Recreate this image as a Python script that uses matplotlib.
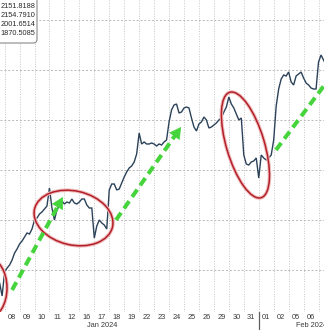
import numpy as np
import matplotlib
matplotlib.use("Agg")
import matplotlib.pyplot as plt
from matplotlib.patches import Ellipse, FancyBboxPatch
import matplotlib.transforms as mtransforms

# ---------------- data ----------------
# one sub-list of intraday prices per trading session (session 0 = Jan 8; -1 = Jan 5)
first_session = -1
intraday_prices = [
    [1900, 1894, 1896, 1890, 1887, 1874],  # Jan 05
    [1898, 1902, 1905, 1910, 1917, 1921],  # Jan 08
    [1926, 1929, 1933, 1937, 1936, 1941],  # Jan 09
    [1950, 1952, 1956, 1958, 1961, 1964],  # Jan 10
    [1982, 1962, 1950, 1960, 1965, 1969],  # Jan 11
    [1966, 1968, 1967, 1971, 1967, 1966],  # Jan 12
    [1968, 1971, 1971, 1965, 1962, 1962],  # Jan 16
    [1932, 1944, 1950, 1947, 1945, 1941],  # Jan 17
    [1980, 1986, 1986, 1980, 1981, 1987],  # Jan 18
    [1993, 1998, 2002, 2004, 2008, 2016],  # Jan 19
    [2037, 2026, 2028, 2026, 2026, 2027],  # Jan 22
    [2026, 2024, 2026, 2025, 2028, 2030],  # Jan 23
    [2048, 2060, 2065, 2066, 2057, 2058],  # Jan 24
    [2062, 2063, 2062, 2052, 2043, 2039],  # Jan 25
    [2046, 2048, 2053, 2050, 2042, 2043],  # Jan 26
    [2045, 2047, 2050, 2052, 2058, 2063],  # Jan 29
    [2073, 2066, 2062, 2056, 2050, 2052],  # Jan 30
    [2015, 2006, 2005, 2008, 2009, 2012],  # Jan 31
    [1992, 2015, 2012, 2010, 2012, 2015],  # Feb 01
    [2030, 2064, 2081, 2091, 2095, 2094],  # Feb 02
    [2098, 2088, 2085, 2094, 2096, 2098],  # Feb 05
    [2092, 2087, 2085, 2082, 2081, 2081],  # Feb 06
    [2108, 2115, 2110, 2105, 2104, 2106],  # Feb 07
]
day_labels = ["08", "09", "10", "11", "12", "16", "17", "18", "19", "22", "23",
              "24", "25", "26", "29", "30", "31", "01", "02", "05", "06", "07"]
month_labels = ["Jan 2024", "Feb 2024"]
month_label_pos = [6.55, 20.5]
month_break = 17
tooltip_values = ["2151.8188", "2154.7910", "2001.6514", "1870.5085"]
grid_levels = [1900, 1950, 2000, 2050, 2100, 2150]

# annotation geometry (session, price)
trend_arrows = [((0.5, 1880), (3.9, 1973), True),
                ((7.45, 1950), (11.8, 2043), True),
                ((18.15, 2020), (21.8, 2093), False)]
rings = [((-1.11, 1882), 38, 60, 0),
         ((4.61, 1952), 80, 54, -13),
         ((16.11, 2025), 110, 38, 106.6)]

# ---------------- build series ----------------
xs, ys = [], []
for i, day in enumerate(intraday_prices):
    n = len(day)
    for k, p in enumerate(day):
        xs.append(first_session + i + k / n)
        ys.append(p)
xs = np.array(xs); ys = np.array(ys)

# ---------------- figure ----------------
fig = plt.figure(figsize=(3.24, 3.30), dpi=100)
ax = fig.add_axes([0, 18 / 330, 1, 312 / 330])
for s in ax.spines.values():
    s.set_visible(False)

# grid
ax.set_xticks(np.arange(len(day_labels)) + 0.5)
ax.set_xticklabels(day_labels, fontsize=5.3, color="#3a3a3a", family="Liberation Sans")
ax.set_xticks(np.arange(0, 23), minor=True)
ax.set_yticks(grid_levels)
ax.tick_params(axis="x", which="both", length=0, pad=1.2)
ax.tick_params(axis="y", length=0, labelleft=False)
ax.grid(which="minor", axis="x", color="#c4c4c4", lw=0.7, ls=(0, (1, 1.6)))
ax.grid(which="major", axis="y", color="#b8b8b8", lw=0.7, ls=(0, (2, 2)))
ax.set_axisbelow(True)

# price line
ax.plot(xs, ys, color="#2c4259", lw=1.0, zorder=3, solid_joinstyle="miter")

ax.set_xlim(-0.308, 21.365)
ax.set_ylim(1858, 2170)

# month labels and separator
bt = mtransforms.blended_transform_factory(ax.transData, ax.transAxes)
for lab, pos in zip(month_labels, month_label_pos):
    ax.text(pos, -0.042, lab, transform=bt, ha="center", va="center",
            fontsize=5.3, color="#3a3a3a", family="Liberation Sans", clip_on=False)
ax.plot([month_break, month_break], [0, -0.07], transform=bt, color="#606060",
        lw=0.9, clip_on=False)

# red rings
for (cx, cy), w, h, ang in rings:
    trans = fig.dpi_scale_trans + mtransforms.ScaledTranslation(cx, cy, ax.transData)
    for lw, col in [(2.6, "#efbcbc"), (1.1, "#b3202a")]:
        ax.add_patch(Ellipse((0, 0), w / 100, h / 100, angle=ang, transform=trans,
                             fill=False, lw=lw, ec=col, zorder=4))

# green dashed trend arrows
green = "#46d43c"
for (x0, y0), (x1, y1), head in trend_arrows:
    if head:
        xe = x0 + (x1 - x0) * 0.93
        ye = y0 + (y1 - y0) * 0.93
    else:
        xe, ye = x1, y1
    ax.plot([x0, xe], [y0, ye], color=green, lw=2.9, ls=(0, (2.2, 1.3)),
            solid_capstyle="butt", dash_capstyle="butt", zorder=5)
    if head:
        xb = x0 + (x1 - x0) * 0.88
        yb = y0 + (y1 - y0) * 0.88
        ax.annotate("", xy=(x1, y1), xytext=(xb, yb),
                    arrowprops=dict(arrowstyle="-|>,head_length=0.75,head_width=0.42",
                                    color=green, lw=0.5, shrinkA=0, shrinkB=0),
                    zorder=5)

ax.set_xlim(-0.308, 21.365)
ax.set_ylim(1858, 2170)

# tooltip box
box = FancyBboxPatch((-0.02, 1 - 43 / 312), 37 / 324 + 0.02, 43 / 312 + 0.02,
                     boxstyle="round,pad=0,rounding_size=0.012",
                     transform=ax.transAxes, fc="white", ec="#8a8a8a", lw=0.8,
                     zorder=6, clip_on=False)
ax.add_patch(box)
for j, v in enumerate(tooltip_values):
    ax.text(35 / 324, 1 - (6 + 9.2 * j) / 312, v, transform=ax.transAxes,
            ha="right", va="center", fontsize=5.3, color="#2a2a2a",
            family="Liberation Sans", zorder=7)

fig.savefig("out.png", dpi=100)
